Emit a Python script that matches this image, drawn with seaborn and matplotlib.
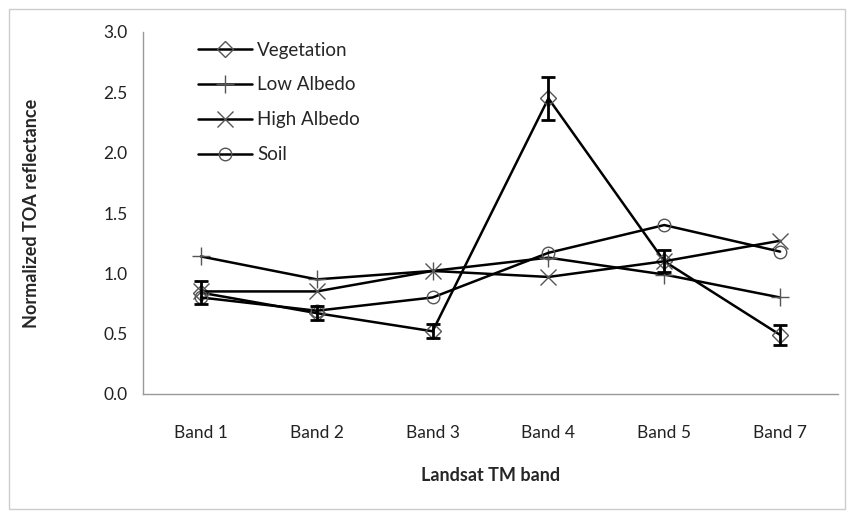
import matplotlib
matplotlib.use("Agg")
import matplotlib.pyplot as plt
import seaborn as sns
import pandas as pd
import numpy as np
from matplotlib.patches import Rectangle

bands = ["Band 1", "Band 2", "Band 3", "Band 4", "Band 5", "Band 7"]
vegetation = [0.84, 0.67, 0.52, 2.45, 1.10, 0.49]
vegetation_err = [0.095, 0.06, 0.06, 0.18, 0.09, 0.08]
low_albedo = [1.14, 0.95, 1.02, 1.13, 0.99, 0.80]
high_albedo = [0.85, 0.85, 1.02, 0.97, 1.10, 1.27]
soil = [0.80, 0.69, 0.80, 1.17, 1.40, 1.18]

series_names = ["Vegetation", "Low Albedo", "High Albedo", "Soil"]
series_values = [vegetation, low_albedo, high_albedo, soil]
markers = {"Vegetation": "D", "Low Albedo": "+", "High Albedo": "x", "Soil": "o"}
msizes = {"Vegetation": 8, "Low Albedo": 13, "High Albedo": 11, "Soil": 9}

rows = []
for name, vals in zip(series_names, series_values):
    for b, v in zip(bands, vals):
        rows.append({"band": b, "value": v, "series": name})
df = pd.DataFrame(rows)

sns.set_style("white")
plt.rcParams["font.family"] = ["Lato", "DejaVu Sans"]

fig = plt.figure(figsize=(8.53, 5.18), dpi=100)
ax = fig.add_axes([143/853, 1-394/518, (838-143)/853, (394-32)/518])

for name in series_names:
    sub = df[df["series"] == name]
    m = markers[name]
    kw = dict(marker=m, markersize=msizes[name], markeredgecolor="#555555",
              markeredgewidth=1.0)
    if m in ("D", "o"):
        kw["markerfacecolor"] = "none"
    sns.lineplot(data=sub, x="band", y="value", ax=ax, color="black",
                 linewidth=1.8, label=name, sort=False, **kw)

xpos = np.arange(len(bands))
ax.errorbar(xpos, vegetation, yerr=vegetation_err, fmt="none", ecolor="black",
            elinewidth=2.0, capsize=5, capthick=2.0, zorder=5)

ax.set_xlim(-0.5, len(bands) - 0.5)
ax.set_ylim(0, 3.0)
ax.set_yticks(np.arange(0, 3.01, 0.5))
ax.set_yticklabels([f"{v:.1f}" for v in np.arange(0, 3.01, 0.5)])
ax.set_xticks(xpos)
ax.set_xticklabels(bands)
ax.set_xticks(np.arange(-0.5, len(bands), 1.0), minor=True)
ax.tick_params(axis="x", which="major", length=0, pad=22, labelsize=12.5, colors="#222222")
ax.tick_params(axis="x", which="minor", length=6, width=1, color="#999999", direction="out")
ax.tick_params(axis="y", which="major", length=5, width=1, color="#999999", direction="out",
               labelsize=12.5, colors="#222222", pad=6)
for s in ["top", "right"]:
    ax.spines[s].set_visible(False)
for s in ["left", "bottom"]:
    ax.spines[s].set_color("#999999")
    ax.spines[s].set_linewidth(1.0)

ax.set_xlabel("Landsat TM band", fontsize=13, fontweight="bold", labelpad=19)
ax.set_ylabel("Normalized TOA reflectance", fontsize=13, fontweight="bold", labelpad=46)

leg = ax.legend(loc="upper left", bbox_to_anchor=(0.055, 1.02), frameon=False,
                fontsize=13.5, handlelength=2.9, labelspacing=0.95, handletextpad=0.25)

fig.patches.append(Rectangle((9/853, 9/518), (845-9)/853, (509-9)/518,
                             transform=fig.transFigure, fill=False,
                             edgecolor="#cccccc", linewidth=1.0))

fig.savefig("out.png", dpi=100)
